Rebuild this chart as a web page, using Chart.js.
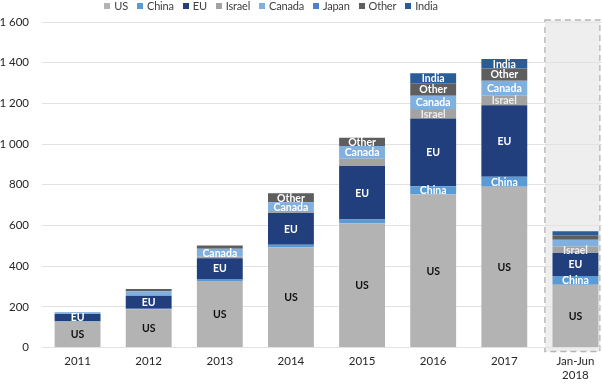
<!DOCTYPE html>
<html>
<head>
<meta charset="utf-8">
<script src="https://cdn.jsdelivr.net/npm/chart.js@4.4.1/dist/chart.umd.min.js"></script>
<style>
    body {
        margin: 0;
        overflow: hidden;
        background: #fff;
        font-family: Lato, sans-serif;
    }

    #wrap {
        position: relative;
        width: 602px;
        height: 385px;
        overflow: hidden;
    }

    #box {
        position: absolute;
        left: 0;
        top: 0;
        width: 611px;
        height: 385px;
    }

    #legend {
        position: absolute;
        left: 0;
        top: -1px;
        width: 542px;
        display: flex;
        justify-content: center;
        gap: 9px;
        font-size: 11px;
        letter-spacing: -0.2px;
        line-height: 13px;
        color: #404040;
        z-index: 2;
    }

    #legend .sw {
        display: inline-block;
        width: 6px;
        height: 6px;
        margin-right: 4px;
        vertical-align: 1px;
    }
</style>
</head>
<body>
<div id="wrap">
    <div id="legend"></div>
    <div id="box"><canvas id="chart"></canvas></div>
</div>

<script>
// ======================
// DATA
// ======================
const years = ["2011", "2012", "2013", "2014", "2015", "2016", "2017", ["Jan-Jun", "2018"]];

const seriesNames = ["US", "China", "EU", "Israel", "Canada", "Japan", "Other", "India"];

const usVals     = [127, 188, 327, 492, 609, 752, 790, 308];
const chinaVals  = [2, 3, 10, 13, 20, 41, 49, 44];
const euVals     = [36, 63, 102, 156, 263, 333, 352, 112];
const israelVals = [0, 0, 7, 10, 36, 46, 46, 33];
const canadaVals = [8, 23, 39, 42, 62, 66, 74, 33];
const japanVals  = [0, 0, 0, 2, 0, 0, 0, 0];
const otherVals  = [2, 11, 16, 43, 41, 61, 61, 20];
const indiaVals  = [0, 0, 0, 0, 0, 49, 46, 21];

// which bars carry a label inside the segment
const usLabel     = [1, 1, 1, 1, 1, 1, 1, 1];
const chinaLabel  = [0, 0, 0, 0, 0, 1, 1, 1];
const euLabel     = [1, 1, 1, 1, 1, 1, 1, 1];
const israelLabel = [0, 0, 0, 0, 0, 1, 1, 1];
const canadaLabel = [0, 0, 1, 1, 1, 1, 1, 0];
const japanLabel  = [0, 0, 0, 0, 0, 0, 0, 0];
const otherLabel  = [0, 0, 0, 1, 1, 1, 1, 0];
const indiaLabel  = [0, 0, 0, 0, 0, 1, 1, 0];

const yTicks = [0, 200, 400, 600, 800, 1000, 1200, 1400, 1600];

// ======================
// STYLE
// ======================
const colors = ["#b3b3b3", "#5b9bd5", "#203f7c", "#a3a3a3", "#7fb0e0", "#4f7fcf", "#5e5e5e", "#2a5d97"];
const labelColors = ["#111", "#fff", "#fff", "#ececec", "#fff", "#fff", "#fff", "#fff"];

const allVals = [usVals, chinaVals, euVals, israelVals, canadaVals, japanVals, otherVals, indiaVals];
const allLabels = [usLabel, chinaLabel, euLabel, israelLabel, canadaLabel, japanLabel, otherLabel, indiaLabel];

// legend (html)
const legendBox = document.getElementById("legend");
seriesNames.forEach((name, i) => {
    const item = document.createElement("span");
    item.innerHTML = `<span class="sw" style="background:${colors[i]}"></span>${name}`;
    legendBox.appendChild(item);
});

function spaced(v) {
    return String(v).replace(/\B(?=(\d{3})+(?!\d))/g, " ");
}

// gray dashed box behind the half-year bar
const halfYearBox = {
    id: "halfYearBox",
    beforeDraw(chart) {
        const { ctx, scales: { x, y } } = chart;
        const left = (x.getPixelForValue(6) + x.getPixelForValue(7)) / 2 + 5;
        const right = left + 55;
        const top = y.getPixelForValue(1600) - 2;
        const bottom = y.getPixelForValue(0) + 4;
        ctx.save();
        ctx.fillStyle = "#eeeeee";
        ctx.fillRect(left, top, right - left, bottom - top);
        ctx.strokeStyle = "#b5b5b5";
        ctx.lineWidth = 1.3;
        ctx.setLineDash([6, 4]);
        ctx.strokeRect(left, top, right - left, bottom - top);
        ctx.restore();
    }
};

// labels inside the segments
const segLabels = {
    id: "segLabels",
    afterDatasetsDraw(chart) {
        const ctx = chart.ctx;
        ctx.save();
        ctx.textAlign = "center";
        ctx.textBaseline = "middle";
        ctx.font = "bold 10.5px Lato";
        chart.data.datasets.forEach((ds, di) => {
            const meta = chart.getDatasetMeta(di);
            meta.data.forEach((bar, i) => {
                if (!allLabels[di][i]) return;
                ctx.fillStyle = labelColors[di];
                ctx.fillText(seriesNames[di], bar.x, (bar.y + bar.base) / 2 + 0.5);
            });
        });
        ctx.restore();
    }
};

new Chart(
    document.getElementById("chart"),
    {
        type: "bar",

        data: {
            labels: years,

            datasets: seriesNames.map((name, i) => ({
                label: name,
                data: allVals[i],
                backgroundColor: colors[i],
                borderWidth: 0,
                barPercentage: 0.645,
                categoryPercentage: 1
            }))
        },

        options: {
            responsive: true,
            maintainAspectRatio: false,
            animation: false,
            layout: {
                padding: { top: 22, right: 0, bottom: 0, left: 0 }
            },

            plugins: {
                legend: { display: false },
                tooltip: { enabled: false }
            },

            scales: {
                x: {
                    stacked: true,
                    grid: { display: false, drawTicks: false },
                    border: { display: false },
                    ticks: {
                        color: "#262626",
                        font: { family: "Lato", size: 11.5 },
                        padding: 7,
                        crossAlign: "near",
                        maxRotation: 0
                    },
                    afterFit: s => { s.height = 37.5; }
                },
                y: {
                    stacked: true,
                    min: 0,
                    max: 1600,
                    afterBuildTicks: s => { s.ticks = yTicks.map(v => ({ value: v })); },
                    grid: { color: "#e2e2e2", drawTicks: false },
                    border: { display: false },
                    ticks: {
                        color: "#262626",
                        font: { family: "Lato", size: 11.5 },
                        padding: 13,
                        callback: v => spaced(v)
                    },
                    afterFit: s => { s.width = 42; }
                }
            }
        },

        plugins: [halfYearBox, segLabels]
    }
);
</script>
</body>
</html>
